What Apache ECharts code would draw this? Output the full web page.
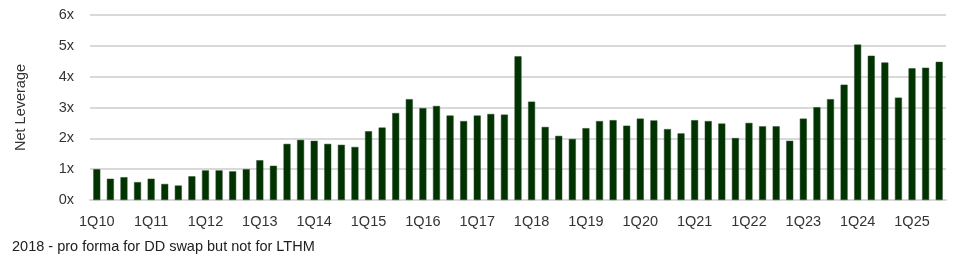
<!DOCTYPE html>
<html>
<head>
<meta charset="utf-8">
<script src="https://cdn.jsdelivr.net/npm/echarts@6/dist/echarts.min.js"></script>
<style>html,body{margin:0;padding:0;background:#fff}#c{width:969px;height:265px}</style>
</head>
<body>
<div id="c"></div>
<script>
const years = ['10','11','12','13','14','15','16','17','18','19','20','21','22','23','24','25'];
const categories = [];
years.forEach(y => { for (let q = 1; q <= 4; q++) categories.push(q + 'Q' + y); });
categories.length = 63; // 1Q10 .. 3Q25

const netLeverage = [
  1.00, 0.69, 0.74, 0.58, 0.69, 0.52, 0.47, 0.77,
  0.96, 0.96, 0.93, 1.00, 1.29, 1.11, 1.82, 1.95,
  1.92, 1.82, 1.79, 1.72, 2.23, 2.35, 2.82, 3.27,
  2.98, 3.05, 2.74, 2.56, 2.74, 2.79, 2.77, 4.66,
  3.19, 2.37, 2.08, 1.98, 2.33, 2.56, 2.59, 2.41,
  2.64, 2.58, 2.30, 2.16, 2.59, 2.56, 2.48, 2.01,
  2.50, 2.39, 2.39, 1.92, 2.64, 3.01, 3.27, 3.74,
  5.04, 4.68, 4.46, 3.32, 4.27, 4.29, 4.48
];
const yTicks = [0, 1, 2, 3, 4, 5, 6];
const yAxisTitle = 'Net Leverage';
const footnote = '2018 - pro forma for DD swap but not for LTHM';

const font = '"Liberation Sans", Arial, sans-serif';
const chart = echarts.init(document.getElementById('c'), null, {renderer: 'canvas'});
chart.setOption({
  animation: false,
  grid: {left: 90, right: 23, top: 15, bottom: 65},
  xAxis: {
    type: 'category',
    data: categories,
    axisLine: {show: true, lineStyle: {color: '#d9d9d9', width: 2}},
    axisTick: {show: false},
    axisLabel: {
      interval: 3,
      color: '#333333',
      fontSize: 14.5,
      fontFamily: font,
      margin: 14
    }
  },
  yAxis: {
    type: 'value',
    min: yTicks[0],
    max: yTicks[yTicks.length - 1],
    interval: 1,
    name: yAxisTitle,
    nameLocation: 'middle',
    nameGap: 62,
    nameRotate: 90,
    nameTextStyle: {color: '#333333', fontSize: 14.5, fontFamily: font},
    axisLine: {show: false},
    axisTick: {show: false},
    axisLabel: {
      color: '#333333',
      fontSize: 14.5,
      fontFamily: font,
      margin: 16,
      formatter: v => v + 'x'
    },
    splitLine: {lineStyle: {color: '#d9d9d9', width: 2}}
  },
  series: [{
    type: 'bar',
    data: netLeverage,
    barWidth: 7,
    itemStyle: {color: '#003300', borderColor: '#2d4a2d', borderWidth: 0.5}
  }],
  graphic: [{
    type: 'text',
    left: 12,
    top: 239,
    style: {text: footnote, fill: '#202020', fontSize: 14.5, fontFamily: font}
  }]
});
</script>
</body>
</html>
